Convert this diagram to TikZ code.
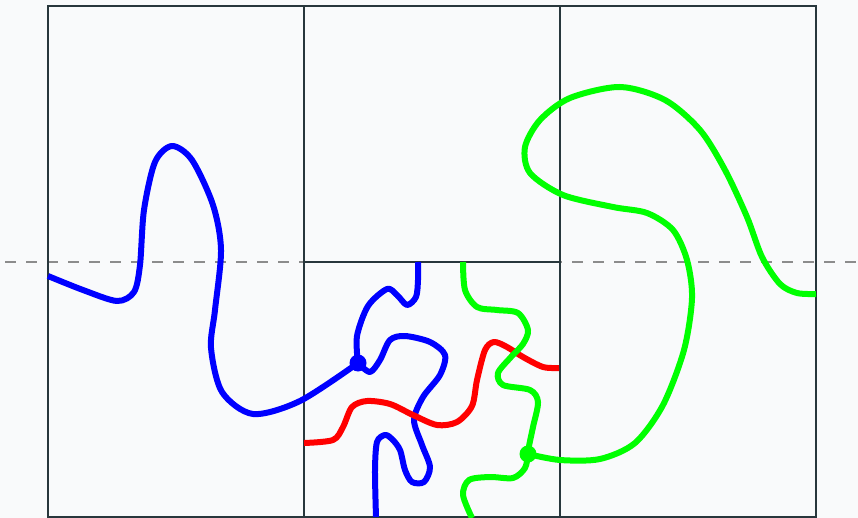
\documentclass[tikz,border=0pt]{standalone}
\usepackage{tikz}
\usetikzlibrary{calc}
\definecolor{paper}{RGB}{249,250,251}
\definecolor{framegray}{RGB}{40,55,60}
\definecolor{axisgray}{RGB}{140,140,140}
\definecolor{pureblue}{RGB}{0,0,255}
\definecolor{purered}{RGB}{255,0,0}
\definecolor{puregreen}{RGB}{0,255,0}

\begin{document}
\begin{tikzpicture}[
    x=1pt, y=-1pt,
    frame/.style={draw=framegray, line width=1.8pt},
    strand/.style={line width=6pt, line join=round},
    joint/.style={circle, inner sep=0pt, minimum size=17pt}
]
  % Canvas
  \fill[paper] (0,0) rectangle (858,518);
  \useasboundingbox (0,0) rectangle (858,518);

  % Horizontal reference line
  \coordinate (axL) at (5,262);
  \coordinate (axR) at (858,262);
  \draw[axisgray, line width=1.8pt, dash pattern=on 11pt off 10pt] (axL) -- (axR);

  % Cells
  \coordinate (TL) at (48,6);
  \coordinate (BR) at (816,517);
  \draw[frame] (TL) rectangle (BR);
  \draw[frame] (304,6) -- (304,517);
  \draw[frame] (560,6) -- (560,517);
  \draw[frame] (304,262) -- (560,262);

  % Junctions
  \node[joint, fill=pureblue] (bj) at (358,363) {};
  \node[joint, fill=puregreen] (gj) at (528,454) {};

  % Blue strand
  \draw[strand, pureblue] plot[smooth] coordinates {
    (48,276) (83,290) (117,301) (134,292) (140,265) (144,210) (155,162)
    (172,146) (192,160) (213,205) (221,250) (215,310) (211,348) (222,392)
    (253,414) (300,401) (bj.center)};
  \draw[strand, pureblue] plot[smooth] coordinates {
    (bj.center) (357,336) (368,306) (387,289) (397,295) (407,305) (416,297) (418,280) (418,262)};
  \draw[strand, pureblue] plot[smooth] coordinates {
    (bj.center) (370,372) (380,360) (390,340) (405,336) (430,342) (445,355)
    (440,375) (423,397) (414,420) (422,445) (430,467) (424,482) (412,482)
    (405,470) (400,450) (392,439) (385,435) (377,442) (375,470) (376,517)};

  % Red strand
  \draw[strand, purered] plot[smooth] coordinates {
    (304,443) (333,440) (343,427) (352,407) (367,401) (390,404) (413,415)
    (437,425) (457,422) (472,406) (477,380) (485,350) (494,342) (507,347)
    (523,357) (543,367) (559,368)};

  % Green strand
  \draw[strand, puregreen] plot[smooth] coordinates {
    (463,262) (465,290) (477,307) (497,310) (518,313) (528,330) (523,344)
    (511,357) (498,373) (503,385) (530,390) (538,402) (533,427) (529,446) (gj.center)};
  \draw[strand, puregreen] plot[smooth] coordinates {
    (gj.center) (525,468) (513,478) (490,477) (469,480) (463,495) (472,518)};
  \draw[strand, puregreen] plot[smooth] coordinates {
    (gj.center) (560,460) (600,459) (635,443) (663,405) (684,350) (692,298)
    (687,260) (673,230) (647,213) (613,207) (563,195) (530,173) (525,147)
    (540,120) (570,98) (620,87) (665,100) (700,130) (725,170) (747,217)
    (762,257) (780,284) (797,293) (816,294)};
\end{tikzpicture}
\end{document}
